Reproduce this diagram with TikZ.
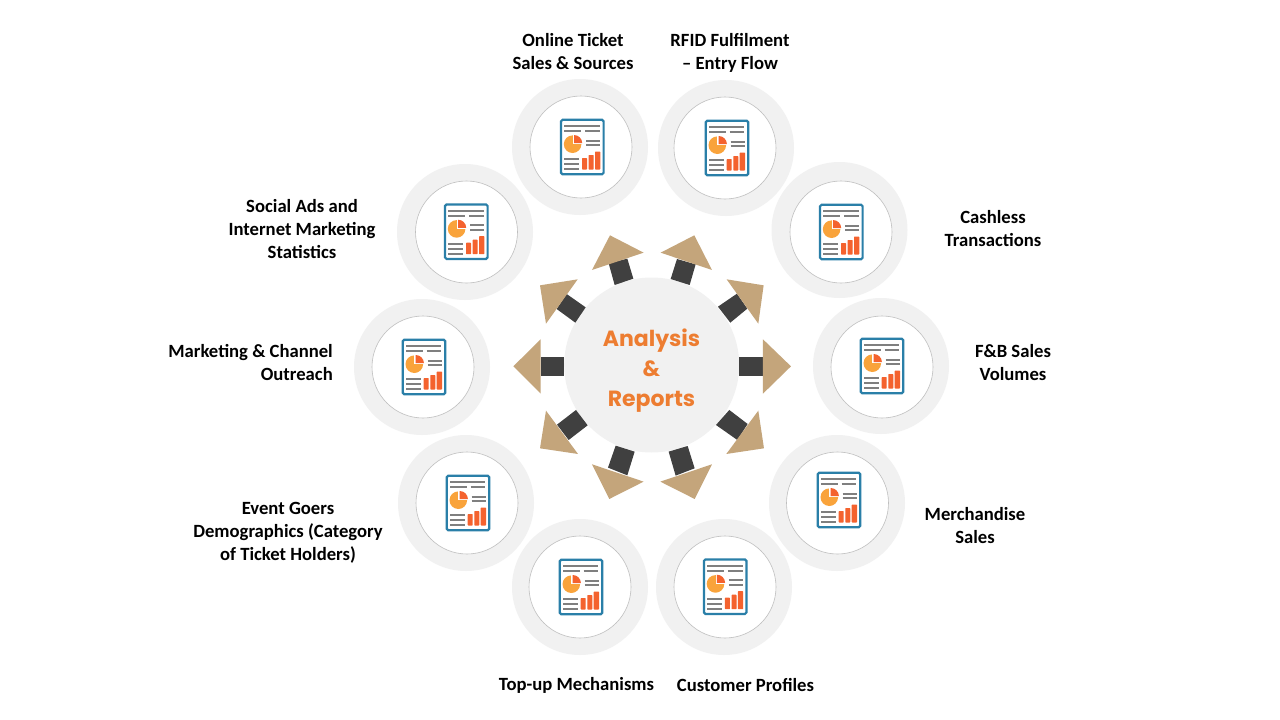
\documentclass[tikz,border=0pt]{standalone}
\usepackage{fontspec}
\setmainfont{Carlito}
\newfontfamily\titlefont{Poppins}
\definecolor{ringgray}{HTML}{F1F1F1}
\definecolor{edgegray}{HTML}{BFBFBF}
\definecolor{bardark}{HTML}{404040}
\definecolor{tipsand}{HTML}{C4A57B}
\definecolor{titleorange}{HTML}{ED7D31}
\definecolor{docblue}{HTML}{2A7FA8}
\definecolor{docline}{HTML}{7F7F7F}
\definecolor{pieorange}{HTML}{F9A33B}
\definecolor{chartred}{HTML}{F4622E}
\tikzset{
  ring/.style={circle,fill=ringgray,draw=none,minimum size=136pt,inner sep=0pt},
  innerring/.style={circle,fill=white,draw=edgegray,line width=0.6pt,minimum size=102pt,inner sep=0pt},
  hub/.style={circle,fill=ringgray,draw=none,minimum size=175pt,inner sep=0pt},
  lab/.style={font=\bfseries\fontsize{18.67}{23}\selectfont,align=center,text=black,inner sep=0pt},
  bar/.style={fill=bardark,draw=none},
  tip/.style={fill=tipsand,draw=none},
  docline/.style={draw=docline,line width=2pt},
  report/.pic={
    % units: px, origin at icon centre
    \draw[draw=docblue,fill=white,line width=2.2pt,rounded corners=1.5pt] (-21.3,-27.2) rectangle (21.3,27.2);
    \draw[docline] (-18,-21) -- (17.3,-21);
    \draw[docline] (-18,-16) -- (-1,-16);
    \draw[docline] (2.7,-16) -- (17.3,-16);
    \draw[docline] (3.7,-6.5) -- (17.7,-6.5);
    \draw[docline] (3.7,-2) -- (17.7,-2);
    \draw[docline] (-18,12) -- (-3,12);
    \draw[docline] (-18,16.8) -- (-3,16.8);
    \draw[docline] (-18,21.8) -- (-3,21.8);
    \fill[pieorange] (-9.7,-2.8) circle[radius=8.8];
    \fill[white] (-9.7,-2.8) -- (-9.7,-12.2) -- (0,-12.2) -- (0,-2.8) -- cycle;
    \fill[chartred] (-8.3,-3.8) -- (-8.3,-12) arc[start angle=-90,end angle=0,radius=8.2] -- cycle;
    \fill[chartred,rounded corners=0.6pt] (-0.3,11) rectangle (4.7,22.5);
    \fill[chartred,rounded corners=0.6pt] (6.3,8) rectangle (11.3,22.5);
    \fill[chartred,rounded corners=0.6pt] (12.7,4.5) rectangle (18,22.5);
  }
}
\begin{document}
\begin{tikzpicture}[x=1pt,y=-1pt]
\useasboundingbox[fill=white] (0,0) rectangle (1280,720);
% rings
\foreach \n/\rx/\ry/\ix/\iy/\cx/\cy in {
  a/580/147/581/147/582.3/147,
  b/726/148/725/148/727/148,
  c/839.5/230/841/232/841.3/232,
  d/881/366/882/367/882/366,
  e/837/503/837.5/503/839/500,
  f/724/587/725/587/725.2/586.7,
  g/580/587/580/587/581/587,
  h/466/503/467/503/468/503,
  i/422/367/423/367/424/367,
  j/465/232/466.5/232/466.3/231.7}{
  \node[ring] (ring\n) at (\rx,\ry) {};
  \node[innerring] (inner\n) at (\ix,\iy) {};
  \pic at (\cx,\cy) {report};
}
% hub
\node[hub] (hub) at (651.7,365) {};
\node[font=\titlefont\bfseries\fontsize{22}{30}\selectfont,text=titleorange,align=center,inner sep=0pt] (title) at (651.5,371) {Analysis\\[0pt]\&\\[0pt]Reports};
% arrows
\begin{scope}[shift={(500,220)},x=0.3333pt,y=-0.3333pt]
  \fill[bar] (326,130) -- (382,116) -- (400,176) -- (344,195) -- cycle;
  \fill[tip] (330,46) -- (431,98) -- (276,150) -- cycle;
  \fill[bar] (531,117) -- (587,133) -- (569,195) -- (512,177) -- cycle;
  \fill[tip] (583,46) -- (482,98) -- (636,150) -- cycle;
  \fill[bar] (711,221) -- (742,266) -- (691,308) -- (654,260) -- cycle;
  \fill[tip] (791,196) -- (680,178) -- (775,311) -- cycle;
  \fill[bar] (200,222) -- (257,262) -- (226,308) -- (170,267) -- cycle;
  \fill[tip] (120,196) -- (233,178) -- (138,311) -- cycle;
  \fill[bar] (718,410) -- (789,410) -- (789,469) -- (718,469) -- cycle;
  \fill[tip] (789,358) -- (873,439) -- (789,521) -- cycle;
  \fill[bar] (122,410) -- (193,410) -- (193,469) -- (122,469) -- cycle;
  \fill[tip] (122,358) -- (40,439) -- (122,521) -- cycle;
  \fill[bar] (688,570) -- (743,612) -- (712,660) -- (648,615) -- cycle;
  \fill[tip] (792,685) -- (679,702) -- (775,572) -- cycle;
  \fill[bar] (228,570) -- (263,616) -- (206,660) -- (171,614) -- cycle;
  \fill[tip] (120,685) -- (234,702) -- (138,572) -- cycle;
  \fill[bar] (347,677) -- (404,695) -- (382,766) -- (324,743) -- cycle;
  \fill[tip] (276,733) -- (431,785) -- (328,837) -- cycle;
  \fill[bar] (506,695) -- (563,678) -- (584,745) -- (527,767) -- cycle;
  \fill[tip] (636,733) -- (481,785) -- (584,837) -- cycle;
\end{scope}
% labels
\node[lab] (l1) at (573,52) {Online Ticket\\Sales \& Sources};
\node[lab] (l2) at (730,53) {RFID Fulfilment\\– Entry Flow};
\node[lab] (l3) at (993,229) {Cashless\\Transactions};
\node[lab] (l4) at (1013,363) {F\&B Sales\\Volumes};
\node[lab] (l5) at (975,526) {Merchandise\\Sales};
\node[lab] (l6) at (745.5,684.5) {Customer Profiles};
\node[lab] (l7) at (576.5,685) {Top-up Mechanisms};
\node[lab] (l8) at (288,533) {Event Goers\\Demographics (Category\\of Ticket Holders)};
\node[lab,align=right,anchor=east] (l9) at (333,363) {Marketing \& Channel\\Outreach};
\node[lab] (l10) at (302,229) {Social Ads and\\Internet Marketing\\Statistics};
\end{tikzpicture}
\end{document}
